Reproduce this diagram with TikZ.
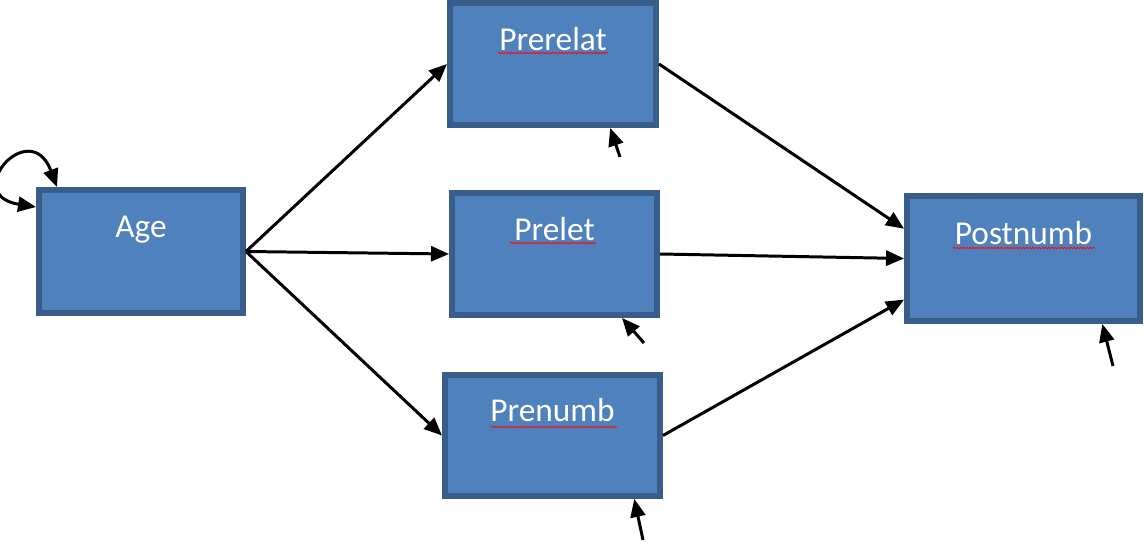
\documentclass[tikz,border=0pt]{standalone}
\usepackage{fontspec}
\setmainfont{Carlito}
\usetikzlibrary{arrows.meta,calc,decorations.pathmorphing}

\definecolor{boxfill}{HTML}{4F81BD}
\definecolor{boxline}{HTML}{385D8A}

\tikzset{
  box/.style={rectangle, draw=boxline, line width=0.12cm, fill=boxfill,
    text=white, font=\fontsize{19}{23}\selectfont,
    text height=0.5cm, text depth=1.05cm, inner sep=0pt},
  arr/.style={line width=1.7pt, ->},
  squiggle/.style={red, line width=0.4pt,
    decorate, decoration={snake, amplitude=0.45pt, segment length=1.8pt}}
}

\begin{document}
\begin{tikzpicture}[x=0.02cm, y=-0.02cm, >={Triangle[length=0.36cm,width=0.3cm]}]
\useasboundingbox (0,0) rectangle (1144,547);

\begin{scope}[every node/.style={box}]
 \node[minimum width=4.08cm, minimum height=2.46cm] (age) at (141,251.5) {Age};
 \node[minimum width=4.12cm, minimum height=2.44cm] (prerelat) at (553,64) {Prerelat};
 \node[minimum width=4.10cm, minimum height=2.44cm] (prelet) at (554.5,254) {Prelet};
 \node[minimum width=4.30cm, minimum height=2.42cm] (prenumb) at (552.5,435.5) {Prenumb};
 \node[minimum width=4.66cm, minimum height=2.50cm] (postnumb) at (1023.5,258.5) {Postnumb};
\end{scope}

% spell check marks
\draw[squiggle] (498,53) -- (608,53);
\draw[squiggle] (510,243) -- (596,243);
\draw[squiggle] (491,427) -- (617,427);
\draw[squiggle] (953,248) -- (1095,248);

% paths
\draw[arr] (age.east) -- (prerelat.west);
\draw[arr] (age.east) -- (prelet.west);
\draw[arr] (age.east) -- (prenumb.west);
\draw[arr] (prerelat.east) -- (postnumb.166);
\draw[arr] (prelet.east) -- (postnumb.west);
\draw[arr] (prenumb.east) -- (postnumb.199);

% self loop
\draw[line width=1.7pt, <->] ([yshift=-0.4cm]age.north west)
  .. controls (-40,195) and (30,115) .. ([xshift=0.42cm]age.north west);

% residuals
\coordinate (e1) at (620,157);
\coordinate (e2) at (644,343);
\coordinate (e3) at (643,540);
\coordinate (e4) at (1113,366);
\draw[arr] (e1) -- ($(prerelat.south west)!0.77!(prerelat.south east)$);
\draw[arr] (e2) -- ($(prelet.south west)!0.82!(prelet.south east)$);
\draw[arr] (e3) -- ($(prenumb.south west)!0.87!(prenumb.south east)$);
\draw[arr] (e4) -- ($(postnumb.south west)!0.83!(postnumb.south east)$);

\end{tikzpicture}
\end{document}
